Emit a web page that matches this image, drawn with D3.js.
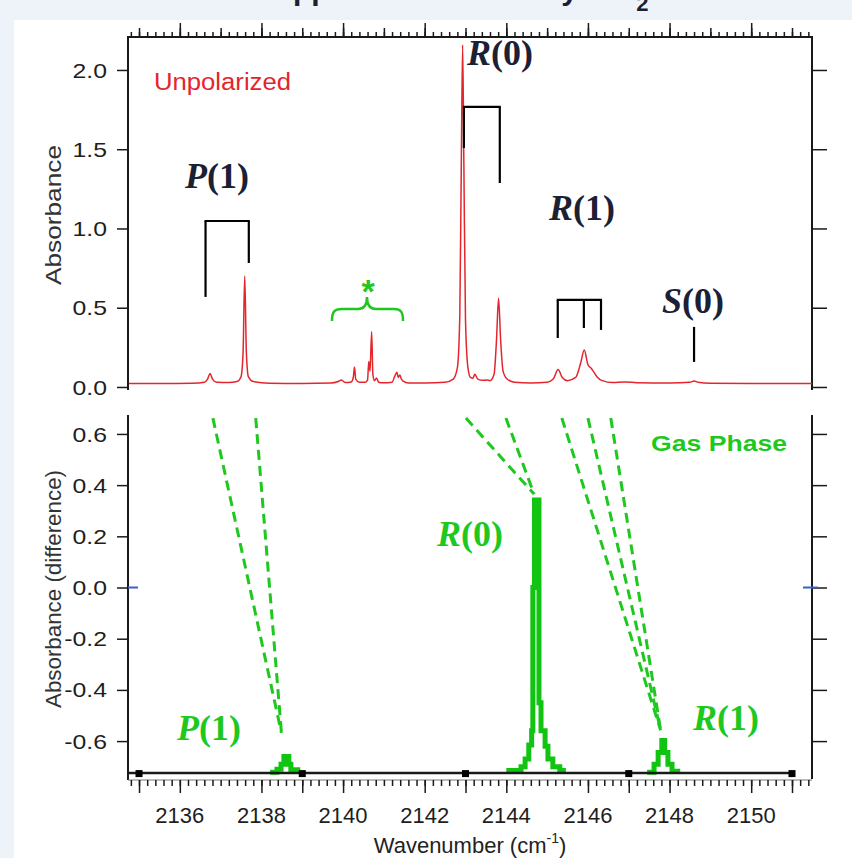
<!DOCTYPE html>
<html><head><meta charset="utf-8">
<script src="https://cdn.jsdelivr.net/npm/d3@7"></script>
<style>
html,body{margin:0;padding:0;background:#eef3f9;}
svg{display:block;}
</style></head><body>
<svg id="chart" width="852" height="858"></svg>
<script>
// ---------------- DATA ----------------
// Upper panel: unpolarized absorbance spectrum (wavenumber cm-1, absorbance)
const redW = [2134.75,2135.5,2136.3,2136.6,2136.68,2136.74,2136.8,2136.9,2137.2,2137.4,2137.5,2137.55,2137.59,2137.63,2137.68,2137.8,2138.2,2139.0,2139.7,2139.88,2139.96,2140.05,2140.2,2140.25,2140.28,2140.31,2140.4,2140.55,2140.6,2140.63,2140.66,2140.7,2140.73,2140.77,2140.82,2140.87,2141.0,2141.2,2141.27,2141.32,2141.35,2141.39,2141.42,2141.48,2141.6,2142.0,2142.5,2142.7,2142.8,2142.86,2142.9,2142.93,2142.96,2143.0,2143.06,2143.12,2143.18,2143.23,2143.3,2143.42,2143.52,2143.6,2143.7,2143.76,2143.81,2143.86,2143.92,2144.02,2144.2,2144.6,2145.0,2145.15,2145.27,2145.37,2145.5,2145.7,2145.82,2145.91,2146.0,2146.08,2146.13,2146.22,2146.35,2146.6,2146.9,2147.2,2148.0,2148.5,2148.6,2148.7,2149.0,2150.0,2151.49];
const redA = [0.022,0.022,0.024,0.030,0.050,0.085,0.050,0.030,0.028,0.034,0.065,0.220,0.700,0.220,0.065,0.034,0.024,0.022,0.025,0.035,0.044,0.028,0.032,0.060,0.126,0.050,0.030,0.030,0.045,0.160,0.100,0.349,0.080,0.040,0.057,0.030,0.026,0.030,0.070,0.093,0.060,0.076,0.055,0.035,0.025,0.025,0.030,0.050,0.120,0.450,1.500,2.158,1.400,0.420,0.120,0.060,0.055,0.080,0.050,0.042,0.044,0.040,0.080,0.300,0.560,0.300,0.100,0.050,0.030,0.025,0.030,0.050,0.110,0.060,0.040,0.060,0.150,0.233,0.140,0.118,0.100,0.065,0.040,0.028,0.032,0.027,0.025,0.030,0.038,0.030,0.024,0.022,0.022];

// Lower panel: gas-phase difference spectrum, three bands (step trace)
const gasP1W = [2138.21,2138.38,2138.48,2138.55,2138.67,2138.72,2138.89];
const gasP1V = [-0.722,-0.710,-0.690,-0.660,-0.690,-0.712,-0.722];
const gasR0W = [2144.00,2144.36,2144.46,2144.55,2144.62,2144.65,2144.69,2144.80,2144.85,2144.95,2145.02,2145.14,2145.31,2145.46];
const gasR0V = [-0.715,-0.700,-0.670,-0.615,-0.560,0.000,0.342,-0.450,-0.560,-0.620,-0.670,-0.700,-0.715,-0.715];
const gasR1W = [2147.45,2147.62,2147.72,2147.81,2147.88,2147.96,2148.06,2148.20];
const gasR1V = [-0.722,-0.690,-0.645,-0.598,-0.645,-0.690,-0.718,-0.722];
const gasBaseline = -0.725;
const baselineMarkW = [2135,2139,2143,2147,2151];

// Assignment brackets in the upper panel (wavenumber legs, absorbance levels)
const bracketP1 = {legs:[2136.63,2137.69], top:1.047, ends:[0.568,0.782]};
const bracketR0 = {legs:[2142.96,2143.84], top:1.767, ends:[1.508,1.287]};
const bracketR1 = {legs:[2145.26,2145.90,2146.32], top:0.549, ends:[0.309,0.372,0.360]};
const markS0 = {w:2148.6, from:0.379, to:0.158};

// Dashed correlation lines: start wavenumbers (top of lower panel) -> gas band
const linksP1 = {from:[2136.81,2137.86], toW:2138.49, toV:-0.568};
const linksR0 = {from:[2143.01,2143.99], toW:2144.68, toV:0.365};
const linksR1 = {from:[2145.36,2146.00,2146.56], toW:2147.78, toV:-0.557};
const linkStartV = 0.662;

// Tick labels
const xTickLabels = [2136,2138,2140,2142,2144,2146,2148,2150];
const yTopTicks = [0.0,0.5,1.0,1.5,2.0];
const yBotTicks = [0.6,0.4,0.2,0.0,-0.2,-0.4,-0.6];

// ---------------- DRAW ----------------
const svg = d3.select("#chart");
const SANS = "'Liberation Sans', Arial, sans-serif";
const SERIF = "'Liberation Serif', 'Times New Roman', serif";
const NAVY = "#1b2033", GREEN = "#1fc81f", RED = "#e3262c", AX = "#1a1a1a";

svg.append("rect").attr("x",14).attr("y",20).attr("width",838).attr("height",838).attr("fill","#ffffff");

// title, cut off by the top edge in the original figure (only descenders show)
const title = svg.append("text").attr("x",248).attr("y",0)
  .attr("font-family",SANS).attr("font-weight","bold").attr("font-size",30).attr("fill",NAVY);
title.append("tspan").text("Trapped CO in Solid by o-H");
title.append("tspan").attr("font-size",22).attr("dy",11).text("2");

const x = d3.scaleLinear().domain([2134.73,2151.49]).range([128,812]);
const yT = d3.scaleLinear().domain([-0.038,2.208]).range([393,37]);
const yB = d3.scaleLinear().domain([-0.752,0.674]).range([780,415]);

function stretch(sel, f){ sel.each(function(){ const L=this.getComputedTextLength(); d3.select(this).attr("textLength",L*f).attr("lengthAdjust","spacingAndGlyphs"); }); }

// ---- frames ----
const frame = svg.append("g").attr("stroke",AX).attr("stroke-width",2).attr("fill","none");
frame.append("path").attr("d",`M128,390V37H812V390`);
frame.append("path").attr("d",`M128,415V780`);
frame.append("path").attr("d",`M812,415V779`);
svg.append("line").attr("x1",128).attr("x2",812).attr("y1",780).attr("y2",780).attr("stroke","#777").attr("stroke-width",1);

function styleAxis(g){ g.select(".domain").remove(); g.selectAll("line").attr("stroke",AX).attr("stroke-width",1.5); }

// top x axis ticks
const minorTicks = d3.range(2134.8, 2151.5, 0.2).map(v=>+v.toFixed(1));
const intTicks = d3.range(2135, 2152, 1);
svg.append("g").attr("transform","translate(0,37)").call(d3.axisTop(x).tickValues(minorTicks).tickSize(5).tickFormat("")).call(styleAxis);
svg.append("g").attr("transform","translate(0,37)").call(d3.axisTop(x).tickValues(intTicks).tickSize(9).tickFormat("")).call(styleAxis);
svg.append("g").attr("transform","translate(0,37)").call(d3.axisTop(x).tickValues(xTickLabels).tickSize(14).tickFormat("")).call(styleAxis);

// bottom x axis ticks + labels
svg.append("g").attr("transform","translate(0,780)").call(d3.axisBottom(x).tickValues(minorTicks).tickSize(6).tickFormat("")).call(styleAxis);
svg.append("g").attr("transform","translate(0,780)").call(d3.axisBottom(x).tickValues(xTickLabels.concat(baselineMarkW)).tickSize(13).tickFormat("")).call(styleAxis);
svg.append("g").selectAll("text").data(xTickLabels).join("text")
  .attr("x",d=>x(d)).attr("y",823).attr("text-anchor","middle")
  .attr("font-family",SANS).attr("font-size",22).attr("fill","#1e1e1e").text(d=>d);

// y axes
function yLabels(scale, ticks){
  svg.append("g").selectAll("text").data(ticks).join("text")
    .attr("x",107).attr("y",d=>scale(d)).attr("dy","0.36em").attr("text-anchor","end")
    .attr("font-family",SANS).attr("font-size",21).attr("fill","#1e1e1e").text(d=>d.toFixed(1))
    .call(stretch,1.18);
}
svg.append("g").attr("transform","translate(128,0)").call(d3.axisLeft(yT).tickValues(yTopTicks).tickSize(11).tickFormat("")).call(styleAxis);
svg.append("g").attr("transform","translate(812,0)").call(d3.axisRight(yT).tickValues(yTopTicks).tickSize(15).tickFormat("")).call(styleAxis);
svg.append("g").attr("transform","translate(128,0)").call(d3.axisLeft(yB).tickValues(yBotTicks).tickSize(11).tickFormat("")).call(styleAxis);
svg.append("g").attr("transform","translate(812,0)").call(d3.axisRight(yB).tickValues(yBotTicks).tickSize(15).tickFormat("")).call(styleAxis);
yLabels(yT, yTopTicks);
yLabels(yB, yBotTicks);
// blue zero marks
svg.append("line").attr("x1",128).attr("x2",138).attr("y1",yB(0)).attr("y2",yB(0)).attr("stroke","#3a5fc8").attr("stroke-width",2);
svg.append("line").attr("x1",803).attr("x2",818).attr("y1",yB(0)).attr("y2",yB(0)).attr("stroke","#3a5fc8").attr("stroke-width",2);

// axis titles
svg.append("text").attr("transform","translate(61,215) rotate(-90)").attr("text-anchor","middle")
  .attr("font-family",SANS).attr("font-size",22).attr("fill","#333")
  .attr("textLength",140).attr("lengthAdjust","spacingAndGlyphs").text("Absorbance");
svg.append("text").attr("transform","translate(61,589) rotate(-90)").attr("text-anchor","middle")
  .attr("font-family",SANS).attr("font-size",22).attr("fill","#333")
  .attr("textLength",238).attr("lengthAdjust","spacingAndGlyphs").text("Absorbance (difference)");
svg.append("text").attr("x",470).attr("y",853).attr("text-anchor","middle")
  .attr("font-family",SANS).attr("font-size",22).attr("fill","#222")
  .html("Wavenumber (cm<tspan font-size='14' dy='-10'>-1</tspan><tspan dy='10'>)</tspan>");

// ---- red spectrum ----
const redData = redW.map((w,i)=>[w,redA[i]]);
svg.append("path").datum(redData)
  .attr("d", d3.line().x(d=>x(d[0])).y(d=>yT(d[1])).curve(d3.curveMonotoneX))
  .attr("fill","none").attr("stroke",RED).attr("stroke-width",1.5);

svg.append("text").attr("x",154).attr("y",90).attr("font-family",SANS).attr("font-size",23)
  .attr("fill",RED).attr("textLength",137).attr("lengthAdjust","spacingAndGlyphs").text("Unpolarized");

// ---- brackets ----
const br = svg.append("g").attr("stroke","#000").attr("stroke-width",2.2).attr("fill","none");
function bracket(b){
  const xs=b.legs.map(x), yt=yT(b.top);
  br.append("line").attr("x1",xs[0]-1).attr("x2",xs[xs.length-1]+1).attr("y1",yt).attr("y2",yt);
  xs.forEach((xx,i)=>br.append("line").attr("x1",xx).attr("x2",xx).attr("y1",yt).attr("y2",yT(b.ends[i])));
}
bracket(bracketP1); bracket(bracketR0); bracket(bracketR1);
br.append("line").attr("x1",x(markS0.w)).attr("x2",x(markS0.w)).attr("y1",yT(markS0.from)).attr("y2",yT(markS0.to));

function label(px,py,letter,num,color){
  const t = svg.append("text").attr("x",px).attr("y",py).attr("font-family",SERIF)
    .attr("font-weight","bold").attr("font-size",36).attr("fill",color);
  t.append("tspan").attr("font-style","italic").text(letter);
  t.append("tspan").text("("+num+")");
}
label(185,188,"P","1",NAVY);
label(467,65,"R","0",NAVY);
label(549,220,"R","1",NAVY);
label(662,313,"S","0",NAVY);

// green asterisk + brace
svg.append("text").attr("x",368).attr("y",303).attr("text-anchor","middle").attr("font-family",SANS)
  .attr("font-weight","bold").attr("font-size",34).attr("fill",GREEN).text("*");
svg.append("path").attr("d","M332,321 C332,312 334,309 342,309 L358,309 C364,309 367,305 367,297 C367,305 370,309 376,309 L394,309 C401,309 403,312 403,321")
  .attr("fill","none").attr("stroke",GREEN).attr("stroke-width",2.5);

// ---- dashed correlation lines ----
const dash = svg.append("g").attr("stroke",GREEN).attr("stroke-width",3).attr("stroke-dasharray","10,6").attr("fill","none");
[linksP1,linksR0,linksR1].forEach(L=>{
  L.from.forEach(w=>dash.append("line").attr("x1",x(w)).attr("y1",yB(linkStartV)).attr("x2",x(L.toW)).attr("y2",yB(L.toV)));
});

// ---- gas phase trace ----
const gl = d3.line().x(d=>x(d[0])).y(d=>yB(d[1])).curve(d3.curveStepAfter);
[[gasP1W,gasP1V],[gasR0W,gasR0V],[gasR1W,gasR1V]].forEach(([ws,vs])=>{
  svg.append("path").datum(ws.map((w,i)=>[w,vs[i]])).attr("d",gl)
    .attr("fill","none").attr("stroke","#12c412").attr("stroke-width",5).attr("stroke-linejoin","miter");
});
// baseline with markers
svg.append("line").attr("x1",128).attr("x2",x(2151)).attr("y1",yB(gasBaseline)).attr("y2",yB(gasBaseline))
  .attr("stroke",AX).attr("stroke-width",2.5);
svg.append("g").selectAll("rect").data(baselineMarkW).join("rect")
  .attr("x",d=>x(d)-3.5).attr("y",yB(gasBaseline)-3).attr("width",7).attr("height",7).attr("fill","#000");

svg.append("text").attr("x",651).attr("y",451).attr("font-family",SANS).attr("font-weight","bold")
  .attr("font-size",22).attr("fill",GREEN).attr("textLength",136).attr("lengthAdjust","spacingAndGlyphs").text("Gas Phase");
label(437,546,"R","0",GREEN);
label(177,740,"P","1",GREEN);
label(693,730,"R","1",GREEN);
</script>
</body></html>
